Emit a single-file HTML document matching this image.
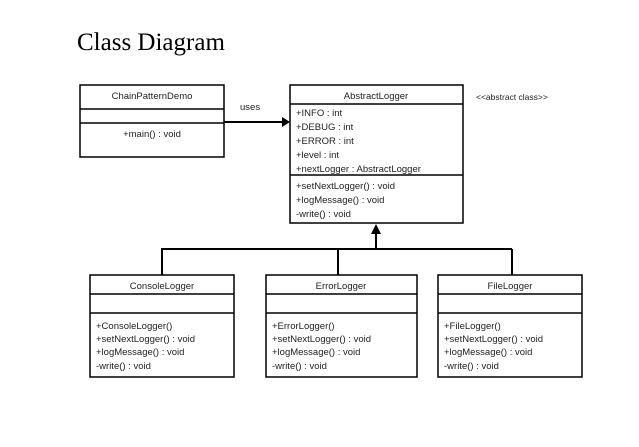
<!DOCTYPE html>
<html><head><meta charset="utf-8"><style>
html,body{margin:0;padding:0;background:#fff;}
svg{display:block}
text{font-family:"Liberation Sans",sans-serif;font-size:9.5px;fill:#222}
</style></head><body>
<svg width="639" height="447" viewBox="0 0 639 447" xmlns="http://www.w3.org/2000/svg">
<text x="77" y="50" style="font-family:'Liberation Serif',serif;font-size:25px;fill:#000">Class Diagram</text>
<g fill="none" stroke="#000" stroke-width="1.5">
<rect x="80" y="85" width="144" height="72"/>
<line x1="80" y1="109" x2="224" y2="109"/><line x1="80" y1="123" x2="224" y2="123"/>
<rect x="290" y="85" width="173" height="138"/>
<line x1="290" y1="104" x2="463" y2="104"/><line x1="290" y1="175" x2="463" y2="175"/>
<rect x="90" y="275" width="144" height="102"/>
<line x1="90" y1="294" x2="234" y2="294"/><line x1="90" y1="313" x2="234" y2="313"/>
<rect x="266" y="275" width="151" height="102"/>
<line x1="266" y1="294" x2="417" y2="294"/><line x1="266" y1="313" x2="417" y2="313"/>
<rect x="438" y="275" width="144" height="102"/>
<line x1="438" y1="294" x2="582" y2="294"/><line x1="438" y1="313" x2="582" y2="313"/>
</g>
<g stroke="#000" stroke-width="2" fill="none">
<line x1="224" y1="122" x2="284" y2="122"/>
<line x1="376" y1="232" x2="376" y2="249"/>
<line x1="161" y1="249" x2="512" y2="249"/>
<line x1="162" y1="249" x2="162" y2="275"/>
<line x1="338" y1="249" x2="338" y2="275"/>
<line x1="512" y1="249" x2="512" y2="275"/>
</g>
<polygon points="290,122 282,117 282,127" fill="#000"/>
<polygon points="376,224 371,234 381,234" fill="#000"/>
<text x="240" y="110">uses</text>
<text x="476" y="100" style="font-size:8.5px">&lt;&lt;abstract class&gt;&gt;</text>
<text x="152" y="99" text-anchor="middle">ChainPatternDemo</text>
<text x="152" y="137" text-anchor="middle">+main() : void</text>
<text x="376" y="99" text-anchor="middle">AbstractLogger</text>
<text x="296" y="116">+INFO : int</text>
<text x="296" y="130">+DEBUG : int</text>
<text x="296" y="144">+ERROR : int</text>
<text x="296" y="158">+level : int</text>
<text x="296" y="172">+nextLogger : AbstractLogger</text>
<text x="296" y="189">+setNextLogger() : void</text>
<text x="296" y="203">+logMessage() : void</text>
<text x="296" y="217">-write() : void</text>
<text x="162" y="289" text-anchor="middle">ConsoleLogger</text>
<text x="96" y="329">+ConsoleLogger()</text>
<text x="96" y="342">+setNextLogger() : void</text>
<text x="96" y="355">+logMessage() : void</text>
<text x="96" y="369">-write() : void</text>
<text x="341" y="289" text-anchor="middle">ErrorLogger</text>
<text x="272" y="329">+ErrorLogger()</text>
<text x="272" y="342">+setNextLogger() : void</text>
<text x="272" y="355">+logMessage() : void</text>
<text x="272" y="369">-write() : void</text>
<text x="510" y="289" text-anchor="middle">FileLogger</text>
<text x="444" y="329">+FileLogger()</text>
<text x="444" y="342">+setNextLogger() : void</text>
<text x="444" y="355">+logMessage() : void</text>
<text x="444" y="369">-write() : void</text>
</svg>
</body></html>
